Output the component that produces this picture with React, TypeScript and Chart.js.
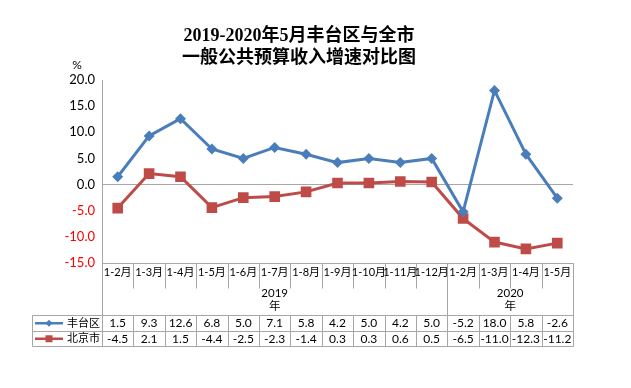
import React, { useEffect, useRef } from "react";
import { Chart, registerables } from "chart.js";

Chart.register(...registerables);

const categories = ["1-2月", "1-3月", "1-4月", "1-5月", "1-6月", "1-7月", "1-8月", "1-9月", "1-10月", "1-11月", "1-12月", "1-2月", "1-3月", "1-4月", "1-5月"];
const years = [
  { label: "2019", suffix: "年", from: 0, to: 10 },
  { label: "2020", suffix: "年", from: 11, to: 14 },
];
const fengtai = [1.5, 9.3, 12.6, 6.8, 5.0, 7.1, 5.8, 4.2, 5.0, 4.2, 5.0, -5.2, 18.0, 5.8, -2.6];
const beijing = [-4.5, 2.1, 1.5, -4.4, -2.5, -2.3, -1.4, 0.3, 0.3, 0.6, 0.5, -6.5, -11.0, -12.3, -11.2];
const seriesNames = ["丰台区", "北京市"];
const titleLines = ["2019-2020年5月丰台区与全市", "一般公共预算收入增速对比图"];
const yUnit = "%";

const BLUE = "#4A7EBB";
const RED = "#BE4B48";
const GRID = "#A6A6A6";
const FONT = '"Lato", "Noto Sans CJK SC", sans-serif';

const tablePlugin = {
  id: "tablePlugin",
  afterDraw(chart: any) {
    const ctx = chart.ctx;
    const area = chart.chartArea;
    const x = chart.scales.x;
    const n = categories.length;
    const colW = (area.right - area.left) / n;
    const bound = (k: number) => x.getPixelForValue(0) - colW / 2 + k * colW;
    const catBottom = area.bottom + 25;
    const tableTop = area.bottom + 52;
    const rowH = 15.5;
    const tableLeft = 32;

    ctx.save();
    // Title
    ctx.fillStyle = "#000";
    ctx.textAlign = "center";
    ctx.textBaseline = "middle";
    ctx.font = 'bold 18px "Liberation Serif", "Noto Sans CJK SC", serif';
    ctx.fillText(titleLines[0], 299, 36);
    ctx.fillText(titleLines[1], 299, 58);

    // unit
    ctx.font = "12px " + FONT;
    ctx.fillText(yUnit, 77, 65);

    // lines
    ctx.strokeStyle = GRID;
    ctx.lineWidth = 1;
    const line = (x1: number, y1: number, x2: number, y2: number) => {
      ctx.beginPath();
      ctx.moveTo(Math.round(x1) + 0.5, Math.round(y1) + 0.5);
      ctx.lineTo(Math.round(x2) + 0.5, Math.round(y2) + 0.5);
      ctx.stroke();
    };
    line(bound(0), area.bottom, bound(n), area.bottom);
    for (let k = 0; k <= n; k++) {
      line(bound(k), area.bottom, bound(k), catBottom);
    }
    for (const yr of years) {
      line(bound(yr.from), area.bottom, bound(yr.from), tableTop);
      line(bound(yr.to + 1), area.bottom, bound(yr.to + 1), tableTop);
    }
    for (let r = 0; r <= 2; r++) {
      line(tableLeft, tableTop + r * rowH, bound(n), tableTop + r * rowH);
    }
    line(tableLeft, tableTop, tableLeft, tableTop + 2 * rowH);
    for (let k = 0; k <= n; k++) {
      line(bound(k), tableTop, bound(k), tableTop + 2 * rowH);
    }

    // category labels
    ctx.fillStyle = "#000";
    ctx.font = "11px " + FONT;
    ctx.textAlign = "center";
    for (let i = 0; i < n; i++) {
      ctx.fillText(categories[i], x.getPixelForValue(i), area.bottom + 9);
    }
    // years
    ctx.font = "11.5px " + FONT;
    for (const yr of years) {
      const cx = (bound(yr.from) + bound(yr.to + 1)) / 2;
      ctx.fillText(yr.label, cx, area.bottom + 30);
      ctx.fillText(yr.suffix, cx, area.bottom + 43);
    }
    // table values
    const rows = [fengtai, beijing];
    const colors = [BLUE, RED];
    rows.forEach((vals, r) => {
      const cy = tableTop + r * rowH + rowH / 2 + 0.5;
      ctx.fillStyle = "#000";
      ctx.textAlign = "center";
      ctx.font = "12px " + FONT;
      vals.forEach((v, i) => {
        ctx.fillText(v.toFixed(1), x.getPixelForValue(i), cy);
      });
      // legend key
      ctx.strokeStyle = colors[r];
      ctx.lineWidth = 2.5;
      ctx.beginPath();
      ctx.moveTo(35, cy);
      ctx.lineTo(63, cy);
      ctx.stroke();
      ctx.fillStyle = colors[r];
      ctx.beginPath();
      if (r === 0) {
        ctx.moveTo(49, cy - 3.5);
        ctx.lineTo(52.5, cy);
        ctx.lineTo(49, cy + 3.5);
        ctx.lineTo(45.5, cy);
        ctx.closePath();
      } else {
        ctx.rect(45.5, cy - 3.5, 7, 7);
      }
      ctx.fill();
      ctx.fillStyle = "#000";
      ctx.textAlign = "left";
      ctx.font = "11px " + FONT;
      ctx.fillText(seriesNames[r], 67, cy);
    });
    ctx.restore();
  },
};

export default function App() {
  const ref = useRef<HTMLCanvasElement>(null);
  useEffect(() => {
    if (!ref.current) return;
    const chart = new Chart(ref.current, {
      type: "line",
      data: {
        labels: categories,
        datasets: [
          {
            label: seriesNames[0],
            data: fengtai,
            borderColor: BLUE,
            backgroundColor: BLUE,
            borderWidth: 3,
            pointStyle: "rectRot",
            pointRadius: 5.5,
            pointBorderWidth: 0,
            pointBackgroundColor: BLUE,
          },
          {
            label: seriesNames[1],
            data: beijing,
            borderColor: RED,
            backgroundColor: RED,
            borderWidth: 3,
            pointStyle: "rect",
            pointRadius: 7.5,
            pointBorderWidth: 0,
            pointBackgroundColor: RED,
          },
        ],
      },
      options: {
        responsive: false,
        animation: false,
        layout: { padding: { left: 0, right: 58, top: 80, bottom: 125 } },
        plugins: {
          legend: { display: false },
          title: { display: false },
          tooltip: { enabled: false },
        },
        scales: {
          x: {
            type: "category",
            display: false,
            offset: true,
          },
          y: {
            min: -15,
            max: 20,
            afterFit: (s: any) => {
              s.width = 102;
            },
            ticks: {
              stepSize: 5,
              padding: 7,
              font: { family: FONT, size: 13 },
              color: (c: any) => (c.tick.value < 0 ? "#FF0000" : "#000000"),
              callback: (v: any) => Number(v).toFixed(1),
            },
            grid: {
              drawTicks: false,
              color: (c: any) => (c.tick && c.tick.value === 0 ? GRID : "rgba(0,0,0,0)"),
            },
            border: { display: true, color: GRID },
          },
        },
      },
      plugins: [tablePlugin],
    });
    return () => chart.destroy();
  }, []);
  return (
    <div style={{ position: "absolute", left: 0, top: 0, width: 631, height: 388, background: "#fff" }}>
      <canvas ref={ref} width={631} height={388} />
    </div>
  );
}
